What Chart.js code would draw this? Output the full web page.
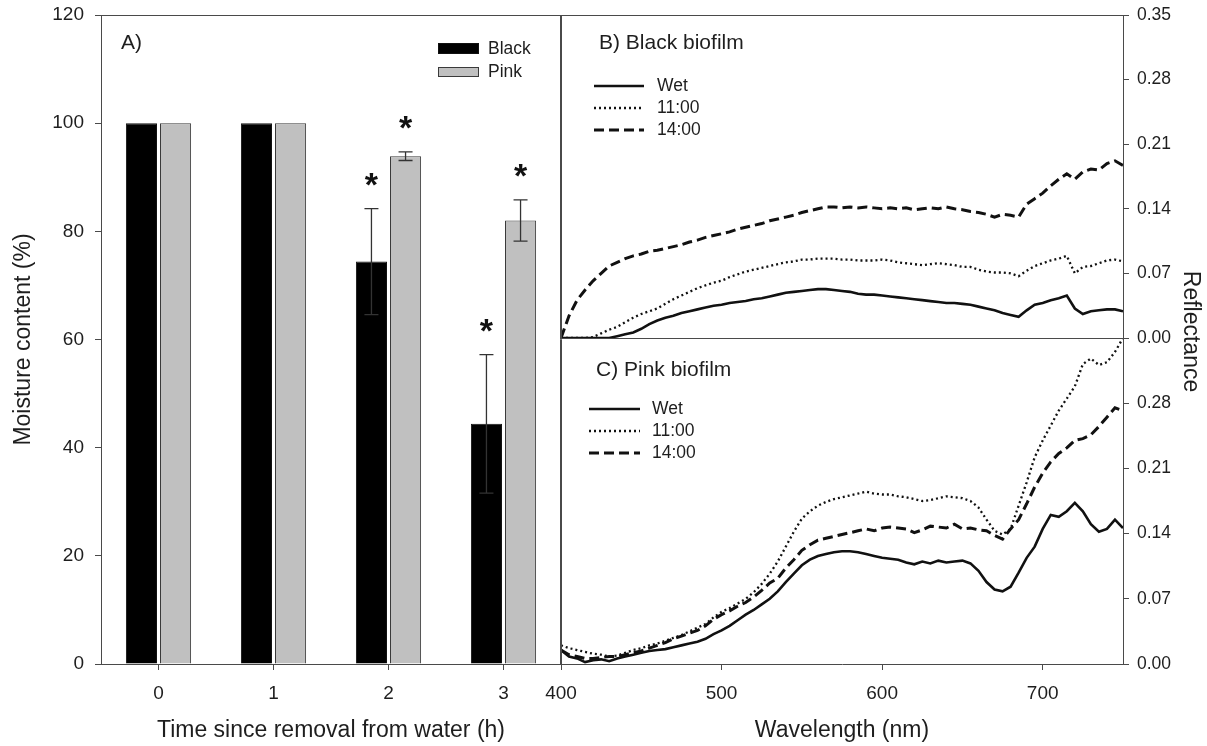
<!DOCTYPE html>
<html>
<head>
<meta charset="utf-8">
<script src="https://cdn.jsdelivr.net/npm/chart.js@4.4.1/dist/chart.umd.min.js"></script>
<style>
  html, body { margin: 0; padding: 0; background: #ffffff; }
  #wrap { position: relative; width: 1207px; height: 746px; overflow: hidden; background: #ffffff; }
  #c1 { position: absolute; left: 0; top: 0; }
  #c2 { position: absolute; left: 500px; top: 0; }
</style>
</head>
<body>
<div id="wrap">
  <canvas id="c1" width="570" height="746"></canvas>
  <canvas id="c2" width="707" height="746"></canvas>
</div>
<script>
// ---------------- Panel A data ----------------
const timeLabels = ['0', '1', '2', '3'];
const blackMoisture = [100, 100, 74.4, 44.4];
const blackError = [0, 0, 9.8, 12.8];
const blackSignificant = [false, false, true, true];
const pinkMoisture = [100, 100, 93.9, 82.0];
const pinkError = [0, 0, 0.8, 3.8];
const pinkSignificant = [false, false, true, true];
const moistureTicks = [0, 20, 40, 60, 80, 100, 120];

// ---------------- Panels B & C data ----------------
const wavelengths = [
  400, 405, 410, 415, 420, 425, 430, 435, 440, 445,
  450, 455, 460, 465, 470, 475, 480, 485, 490, 495,
  500, 505, 510, 515, 520, 525, 530, 535, 540, 545,
  550, 555, 560, 565, 570, 575, 580, 585, 590, 595,
  600, 605, 610, 615, 620, 625, 630, 635, 640, 645,
  650, 655, 660, 665, 670, 675, 680, 685, 690, 695,
  700, 705, 710, 715, 720, 725, 730, 735, 740, 745,
  750
];
// B) Black biofilm
const blackWet = [
  0.000, 0.000, 0.000, 0.000, 0.000, 0.000, 0.000, 0.002, 0.004, 0.006,
  0.010, 0.015, 0.019, 0.022, 0.024, 0.027, 0.029, 0.031, 0.033, 0.035,
  0.036, 0.038, 0.039, 0.040, 0.042, 0.043, 0.045, 0.047, 0.049, 0.050,
  0.051, 0.052, 0.053, 0.053, 0.052, 0.051, 0.050, 0.048, 0.047, 0.047,
  0.046, 0.045, 0.044, 0.043, 0.042, 0.041, 0.040, 0.039, 0.038, 0.038,
  0.037, 0.036, 0.034, 0.032, 0.030, 0.027, 0.025, 0.023, 0.030, 0.036,
  0.038, 0.041, 0.043, 0.046, 0.032, 0.026, 0.029, 0.030, 0.031, 0.031,
  0.029
];
const black1100 = [
  0.000, 0.000, 0.000, 0.000, 0.001, 0.005, 0.009, 0.012, 0.017, 0.022,
  0.026, 0.029, 0.032, 0.037, 0.042, 0.046, 0.050, 0.054, 0.057, 0.060,
  0.062, 0.066, 0.069, 0.072, 0.074, 0.076, 0.078, 0.080, 0.082, 0.083,
  0.085, 0.085, 0.086, 0.086, 0.086, 0.085, 0.085, 0.084, 0.084, 0.084,
  0.085, 0.084, 0.082, 0.081, 0.080, 0.079, 0.080, 0.081, 0.080, 0.079,
  0.077, 0.077, 0.074, 0.072, 0.071, 0.071, 0.070, 0.067, 0.073, 0.078,
  0.081, 0.084, 0.086, 0.089, 0.070, 0.077, 0.078, 0.081, 0.084, 0.085,
  0.083
];
const black1400 = [
  0.000, 0.024, 0.041, 0.052, 0.062, 0.070, 0.078, 0.082, 0.086, 0.089,
  0.091, 0.094, 0.095, 0.097, 0.099, 0.101, 0.104, 0.106, 0.109, 0.111,
  0.113, 0.115, 0.118, 0.120, 0.122, 0.124, 0.127, 0.129, 0.131, 0.133,
  0.136, 0.138, 0.140, 0.142, 0.142, 0.141, 0.142, 0.141, 0.142, 0.141,
  0.140, 0.141, 0.140, 0.141, 0.139, 0.140, 0.141, 0.140, 0.142, 0.140,
  0.139, 0.137, 0.136, 0.134, 0.131, 0.134, 0.133, 0.131, 0.145, 0.151,
  0.157, 0.165, 0.172, 0.178, 0.172, 0.180, 0.183, 0.182, 0.189, 0.192,
  0.187
];
// C) Pink biofilm
const pinkWet = [
  0.015, 0.008, 0.006, 0.002, 0.004, 0.005, 0.003, 0.006, 0.008, 0.010,
  0.012, 0.014, 0.015, 0.016, 0.018, 0.020, 0.022, 0.024, 0.027, 0.032,
  0.036, 0.041, 0.047, 0.053, 0.058, 0.064, 0.070, 0.078, 0.088, 0.097,
  0.106, 0.112, 0.116, 0.118, 0.120, 0.121, 0.121, 0.120, 0.118, 0.116,
  0.114, 0.113, 0.112, 0.109, 0.107, 0.110, 0.108, 0.111, 0.109, 0.110,
  0.111, 0.108, 0.100, 0.088, 0.080, 0.078, 0.083, 0.098, 0.114, 0.126,
  0.145, 0.160, 0.158, 0.164, 0.173, 0.164, 0.150, 0.142, 0.145, 0.155,
  0.146
];
const pink1100 = [
  0.020, 0.017, 0.015, 0.013, 0.011, 0.010, 0.008, 0.009, 0.012, 0.015,
  0.017, 0.020, 0.022, 0.025, 0.028, 0.031, 0.035, 0.039, 0.043, 0.050,
  0.056, 0.060, 0.065, 0.070, 0.077, 0.086, 0.097, 0.110, 0.126, 0.142,
  0.156, 0.164, 0.170, 0.174, 0.177, 0.179, 0.181, 0.183, 0.185, 0.183,
  0.182, 0.182, 0.180, 0.179, 0.177, 0.175, 0.176, 0.178, 0.180, 0.179,
  0.178, 0.175, 0.168, 0.155, 0.143, 0.139, 0.145, 0.170, 0.195, 0.222,
  0.240, 0.256, 0.272, 0.285, 0.298, 0.322, 0.328, 0.321, 0.324, 0.335,
  0.350
];
const pink1400 = [
  0.015, 0.010, 0.008, 0.006, 0.006, 0.007, 0.008, 0.008, 0.010, 0.012,
  0.014, 0.017, 0.020, 0.023, 0.027, 0.030, 0.033, 0.036, 0.041, 0.048,
  0.053, 0.057, 0.062, 0.066, 0.072, 0.079, 0.087, 0.092, 0.103, 0.112,
  0.122, 0.128, 0.133, 0.135, 0.137, 0.139, 0.141, 0.143, 0.145, 0.143,
  0.146, 0.147, 0.146, 0.145, 0.141, 0.144, 0.148, 0.147, 0.146, 0.150,
  0.145, 0.146, 0.144, 0.143, 0.138, 0.134, 0.145, 0.155, 0.172, 0.190,
  0.205, 0.217, 0.226, 0.232, 0.240, 0.242, 0.246, 0.255, 0.265, 0.275,
  0.272
];
const wavelengthTicks = [400, 500, 600, 700];
const reflTicksTop = [0, 0.07, 0.14, 0.21, 0.28, 0.35];
const reflTicksBottom = [0, 0.07, 0.14, 0.21, 0.28];

// ---------------- Styling ----------------
const FONT = '"Liberation Sans", Arial, Helvetica, sans-serif';
const TXT = '#1e1e1e';
const AX = '#4a4a4a';
const TICK_FONT = { family: FONT, size: 19 };
const RIGHT_TICK_FONT = { family: FONT, size: 17.5 };
const TITLE_FONT = { family: FONT, size: 23 };

function noOverflow(s) { s.paddingTop = 0; s.paddingBottom = 0; s.paddingLeft = 0; s.paddingRight = 0; }

// ---------------- Panel A ----------------
const panelAPlugin = {
  id: 'panelA',
  afterDatasetsDraw(chart) {
    const ctx = chart.ctx;
    const yS = chart.scales.y;
    ctx.save();
    chart.data.datasets.forEach((ds, di) => {
      const meta = chart.getDatasetMeta(di);
      meta.data.forEach((bar, i) => {
        const v = ds.data[i];
        const err = ds.errors[i];
        const x = bar.x;
        if (err > 0) {
          const yt = yS.getPixelForValue(v + err);
          const yb = yS.getPixelForValue(v - err);
          ctx.strokeStyle = '#333';
          ctx.lineWidth = 1.3;
          ctx.beginPath();
          ctx.moveTo(x, yb); ctx.lineTo(x, yt);
          ctx.moveTo(x - 7, yt); ctx.lineTo(x + 7, yt);
          ctx.moveTo(x - 7, yb); ctx.lineTo(x + 7, yb);
          ctx.stroke();
        }
        if (ds.significant[i]) {
          const top = yS.getPixelForValue(v + err);
          const cy = top - 29;
          ctx.font = 'bold 34px ' + FONT;
          ctx.fillStyle = '#111';
          ctx.textAlign = 'center';
          ctx.textBaseline = 'alphabetic';
          const m = ctx.measureText('*');
          const A = m.actualBoundingBoxAscent, D = m.actualBoundingBoxDescent;
          ctx.fillText('*', x, cy + (A - D) / 2);
        }
      });
    });
    ctx.restore();
  },
  afterDraw(chart) {
    const ctx = chart.ctx;
    const ca = chart.chartArea;
    ctx.save();
    ctx.strokeStyle = AX;
    ctx.lineWidth = 1;
    ctx.beginPath();
    ctx.moveTo(ca.left, ca.top + 0.5); ctx.lineTo(ca.right, ca.top + 0.5);
    ctx.moveTo(ca.right - 0.5, ca.top); ctx.lineTo(ca.right - 0.5, ca.bottom);
    ctx.stroke();
    // panel label
    ctx.fillStyle = TXT;
    ctx.font = '21px ' + FONT;
    ctx.textAlign = 'left';
    ctx.textBaseline = 'middle';
    ctx.fillText('A)', ca.left + 20, ca.top + 28);
    // legend
    const rows = [
      { y: ca.top + 28, h: 11, ty: ca.top + 34.5 },
      { y: ca.top + 52, h: 10, ty: ca.top + 57 }
    ];
    chart.data.datasets.forEach((ds, di) => {
      const r = rows[di];
      const bx = ca.right - 123;
      ctx.fillStyle = ds.backgroundColor;
      ctx.fillRect(bx, r.y, 41, r.h);
      ctx.strokeStyle = ds.borderColor;
      ctx.lineWidth = 1;
      ctx.strokeRect(bx + 0.5, r.y + 0.5, 40, r.h - 1);
      ctx.fillStyle = TXT;
      ctx.font = '17.5px ' + FONT;
      ctx.fillText(ds.label, ca.right - 73, r.ty);
    });
    ctx.restore();
  }
};

new Chart(document.getElementById('c1'), {
  type: 'bar',
  data: {
    labels: timeLabels,
    datasets: [
      { label: 'Black', data: blackMoisture, errors: blackError, significant: blackSignificant,
        backgroundColor: '#000000', borderColor: '#111111', borderWidth: 1,
        categoryPercentage: 0.593, barPercentage: 0.912 },
      { label: 'Pink', data: pinkMoisture, errors: pinkError, significant: pinkSignificant,
        backgroundColor: '#c0c0c0', borderColor: '#3a3a3a', borderWidth: 1,
        categoryPercentage: 0.593, barPercentage: 0.912 }
    ]
  },
  options: {
    responsive: false,
    animation: false,
    devicePixelRatio: 1,
    layout: { padding: { left: 0, right: 9, top: 15, bottom: 0 } },
    plugins: { legend: { display: false }, tooltip: { enabled: false } },
    scales: {
      x: {
        type: 'category',
        offset: true,
        grid: { offset: false, drawOnChartArea: false, drawTicks: true, tickLength: 6, color: AX, lineWidth: 1 },
        border: { color: AX, width: 1 },
        ticks: { color: TXT, font: TICK_FONT, padding: 12, maxRotation: 0 },
        title: { display: true, text: 'Time since removal from water (h)', color: TXT, font: TITLE_FONT, padding: { top: 0, bottom: 2 } },
        afterFit(s) { s.height = 82; noOverflow(s); }
      },
      y: {
        type: 'linear',
        min: 0, max: 120,
        afterBuildTicks(s) { s.ticks = moistureTicks.map(v => ({ value: v })); },
        grid: { drawOnChartArea: false, drawTicks: true, tickLength: 6, color: AX, lineWidth: 1 },
        border: { color: AX, width: 1 },
        ticks: { color: TXT, font: TICK_FONT, padding: 11 },
        title: { display: true, text: 'Moisture content (%)', color: TXT, font: TITLE_FONT, padding: { top: 10, bottom: 0 } },
        afterFit(s) { s.width = 101; noOverflow(s); }
      }
    }
  },
  plugins: [panelAPlugin]
});

// ---------------- Panels B & C ----------------
const lineStyles = {
  wet:  { borderDash: [],       borderWidth: 2.6 },
  t11:  { borderDash: [2, 3],   borderWidth: 2.3 },
  t14:  { borderDash: [10, 5],  borderWidth: 3 }
};
function series(label, values, yAxisID, style) {
  return {
    label: label,
    data: wavelengths.map((w, i) => ({ x: w, y: values[i] })),
    xAxisID: 'x', yAxisID: yAxisID,
    borderColor: '#111111', backgroundColor: '#111111',
    borderWidth: style.borderWidth, borderDash: style.borderDash,
    pointRadius: 0, pointHoverRadius: 0, fill: false, tension: 0
  };
}

const panelBCPlugin = {
  id: 'panelBC',
  afterDraw(chart) {
    const ctx = chart.ctx;
    const ca = chart.chartArea;
    const yTop = chart.scales.yTop;
    const yBot = chart.scales.yBot;
    ctx.save();
    ctx.strokeStyle = AX;
    ctx.lineWidth = 1;
    ctx.beginPath();
    ctx.moveTo(ca.left, ca.top + 0.5); ctx.lineTo(ca.right, ca.top + 0.5);
    ctx.moveTo(ca.left + 0.5, ca.top); ctx.lineTo(ca.left + 0.5, ca.bottom);
    ctx.moveTo(ca.left, Math.round(yTop.bottom) + 0.5); ctx.lineTo(ca.right, Math.round(yTop.bottom) + 0.5);
    ctx.stroke();

    const panels = [
      { title: 'B) Black biofilm', top: yTop.top, tx: ca.left + 38, ty: 28, lx0: ca.left + 33, lx1: ca.left + 83, textX: ca.left + 96, sets: [0, 1, 2] },
      { title: 'C) Pink biofilm', top: yBot.top, tx: ca.left + 35, ty: 32, lx0: ca.left + 28, lx1: ca.left + 79, textX: ca.left + 91, sets: [3, 4, 5] }
    ];
    panels.forEach(p => {
      ctx.fillStyle = TXT;
      ctx.font = '21px ' + FONT;
      ctx.textAlign = 'left';
      ctx.textBaseline = 'middle';
      ctx.fillText(p.title, p.tx, p.top + p.ty);
      p.sets.forEach((di, k) => {
        const ds = chart.data.datasets[di];
        const y = p.top + 71 + k * 22;
        ctx.strokeStyle = '#111';
        ctx.lineWidth = ds.borderWidth;
        ctx.setLineDash(ds.borderDash);
        ctx.beginPath();
        ctx.moveTo(p.lx0, y); ctx.lineTo(p.lx1, y);
        ctx.stroke();
        ctx.setLineDash([]);
        ctx.fillStyle = TXT;
        ctx.font = '17.5px ' + FONT;
        ctx.fillText(ds.label, p.textX, y);
      });
    });

    // shared right axis title
    ctx.save();
    ctx.translate(ca.right + 67, (ca.top + ca.bottom) / 2 - 8);
    ctx.rotate(Math.PI / 2);
    ctx.fillStyle = TXT;
    ctx.font = '23px ' + FONT;
    ctx.textAlign = 'center';
    ctx.textBaseline = 'middle';
    ctx.fillText('Reflectance', 0, 0);
    ctx.restore();
    ctx.restore();
  }
};

function reflAxis(weight, tickValues) {
  return {
    type: 'linear',
    position: 'right',
    stack: 'refl',
    stackWeight: weight,
    min: 0, max: 0.35,
    afterBuildTicks(s) { s.ticks = tickValues.map(v => ({ value: v })); },
    grid: { drawOnChartArea: false, drawTicks: true, tickLength: 6, color: AX, lineWidth: 1 },
    border: { color: AX, width: 1 },
    ticks: { color: TXT, font: RIGHT_TICK_FONT, padding: 8, callback: v => Number(v).toFixed(2) },
    afterFit(s) { s.width = 84; noOverflow(s); }
  };
}

new Chart(document.getElementById('c2'), {
  type: 'line',
  data: {
    datasets: [
      series('Wet', blackWet, 'yTop', lineStyles.wet),
      series('11:00', black1100, 'yTop', lineStyles.t11),
      series('14:00', black1400, 'yTop', lineStyles.t14),
      series('Wet', pinkWet, 'yBot', lineStyles.wet),
      series('11:00', pink1100, 'yBot', lineStyles.t11),
      series('14:00', pink1400, 'yBot', lineStyles.t14)
    ]
  },
  options: {
    responsive: false,
    animation: false,
    devicePixelRatio: 1,
    layout: { padding: { left: 61, right: 0, top: 15, bottom: 0 } },
    plugins: { legend: { display: false }, tooltip: { enabled: false } },
    scales: {
      x: {
        type: 'linear',
        position: 'bottom',
        min: 400, max: 750,
        afterBuildTicks(s) { s.ticks = wavelengthTicks.map(v => ({ value: v })); },
        grid: { drawOnChartArea: false, drawTicks: true, tickLength: 6, color: AX, lineWidth: 1 },
        border: { color: AX, width: 1 },
        ticks: { color: TXT, font: TICK_FONT, padding: 12, maxRotation: 0, autoSkip: false },
        title: { display: true, text: 'Wavelength (nm)', color: TXT, font: TITLE_FONT, padding: { top: 0, bottom: 2 } },
        afterFit(s) { s.height = 82; noOverflow(s); }
      },
      yTop: reflAxis(323, reflTicksTop),
      yBot: reflAxis(326, reflTicksBottom)
    }
  },
  plugins: [panelBCPlugin]
});
</script>
</body>
</html>
